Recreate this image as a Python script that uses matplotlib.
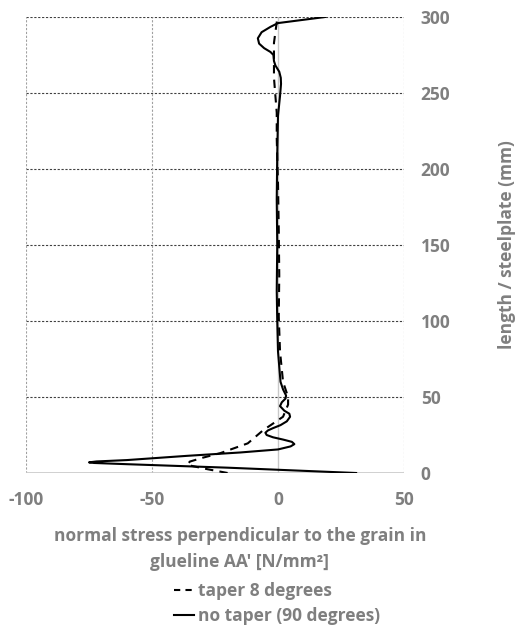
import matplotlib
matplotlib.use("Agg")
import matplotlib.pyplot as plt
from matplotlib.lines import Line2D

plt.rcParams['font.family'] = ['Open Sans', 'DejaVu Sans']

# series: no taper (90 degrees) -- stress (x) vs length (y)
notaper_stress = [31, -20, -60, -73, -75, -72, -60, -36, -15, 0, 5, 6.5, 5.5, 2, -2, -4.5, -5, -4,
                  -2, 1, 3.5, 4.8, 4.5, 2.5, 0.8, 1.5, 3, 3.2, 2, 1, 0.5, 0, -0.3, -0.5, -0.3,
                  -0.5, -0.3, 0, 0.8, 1.2, 1.1, 0.5, -1, -1.6, -1.8, -3, -5.5, -7.5, -8, -6.5,
                  -3, 0, 18.7]
notaper_len = [0, 3.5, 5.8, 6.6, 7, 7.6, 8.5, 11.3, 13.5, 15.5, 17.5, 19, 20.5, 22, 23.5, 25, 26.5, 28,
               29.5, 31.5, 34, 37, 39, 41, 44, 46.5, 49, 51, 55, 60, 70, 80, 100, 120, 150,
               180, 210, 235, 248, 256, 260, 264, 268, 271, 275, 277, 279.5, 282.5, 286, 290,
               293.5, 296, 300]

# series: taper 8 degrees
taper_stress = [-20, -28, -36, -35, -30, -23, -12, -6, 2, 4, 4, 2, 0.8, 0.3, 0.5, 0.3, 0, -0.5,
                -0.5, -1.6, -1.6, -0.3]
taper_len = [0, 2.5, 5.3, 7.5, 10, 13, 19.5, 28, 37, 45, 50, 60, 80, 103, 130, 160, 190, 220,
             237, 260, 283, 299]

xticks = [-100, -50, 0, 50]
yticks = [0, 50, 100, 150, 200, 250, 300]

gray = '#7f7f7f'
fs = 12.5

fig = plt.figure(figsize=(5.18, 6.37), dpi=100)
ax = fig.add_axes([26/518, 1-473/637, (404-26)/518, (473-17)/637])
ax.set_xlim(-100, 50)
ax.set_ylim(0, 300)

# gridlines
for y in yticks[1:]:
    ax.axhline(y, color='#404040', lw=0.8, ls=(0, (2, 1.5)), zorder=1)
for x in [-100, -50, 50]:
    ax.axvline(x, color='#a0a0a0', lw=0.8, ls=(0, (2, 1.5)), zorder=1)
ax.axvline(0, color='#c8c8c8', lw=1.0, zorder=1)
ax.axhline(0, color='#c8c8c8', lw=1.2, zorder=1)

ax.plot(taper_stress, taper_len, color='black', lw=1.5, ls=(0, (4, 3)), zorder=3)
ax.plot(notaper_stress, notaper_len, color='black', lw=1.5, zorder=3)

for s in ax.spines.values():
    s.set_visible(False)

ax.set_xticks(xticks)
ax.set_xticklabels([str(v) for v in xticks])
ax.set_yticks(yticks)
ax.set_yticklabels([str(v) for v in yticks])
ax.yaxis.tick_right()
ax.tick_params(axis='both', length=0, labelcolor=gray, labelsize=fs)
ax.tick_params(axis='x', pad=13)
ax.tick_params(axis='y', pad=12)
for lab in ax.get_xticklabels() + ax.get_yticklabels():
    lab.set_fontweight('bold')

ax.yaxis.set_label_position('right')
ax.set_ylabel('length / steelplate (mm)', color=gray, fontsize=fs, fontweight='bold', labelpad=34)
ax.set_xlabel("normal stress perpendicular to the grain in\nglueline AA' [N/mm²]", color=gray,
              fontsize=fs, fontweight='bold', linespacing=1.6)
ax.xaxis.set_label_coords((240-26)/378, -0.118)
ax.xaxis.label.set_verticalalignment('top')

handles = [Line2D([], [], color='black', lw=1.5, ls=(0, (3, 2.5))),
           Line2D([], [], color='black', lw=1.5)]
leg = fig.legend(handles, ['taper 8 degrees', 'no taper (90 degrees)'], frameon=False,
                 loc='upper left', bbox_to_anchor=(158/518, 1-566/637), handlelength=1.15,
                 handletextpad=0.25, labelspacing=0.45,
                 prop={'weight': 'bold', 'size': fs})
for t in leg.get_texts():
    t.set_color(gray)

fig.savefig('out.png', dpi=100)
